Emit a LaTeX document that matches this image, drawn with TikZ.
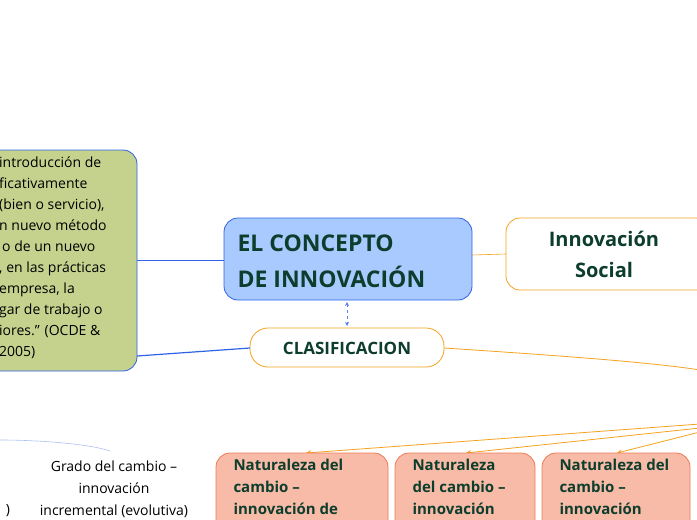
\documentclass[tikz,border=0pt]{standalone}
\usepackage{fontspec}
\setmainfont{Open Sans}
\usetikzlibrary{arrows.meta}
\definecolor{dg}{HTML}{0D3D2C}
\definecolor{bl}{HTML}{2E62E6}
\definecolor{org}{HTML}{F5A21E}
\definecolor{pk}{HTML}{F7BBA7}
\definecolor{pkb}{HTML}{EE7A58}
\tikzset{
 box/.style={draw,rounded corners=14pt,line width=0.8pt,inner sep=0pt},
 pink/.style={box,fill=pk,draw=pkb},
 ptxt/.style={anchor=north west,align=left,text=dg,font=\bfseries\fontsize{15}{22}\selectfont}
}
\begin{document}
\begin{tikzpicture}[x=1pt,y=-1pt]
\useasboundingbox (0,0) rectangle (697,520);
\clip (0,0) rectangle (697,520);
% green box
\draw[box,fill={rgb,255:red,197;green,210;blue,142},draw=bl] (-20,150) rectangle (137,371);
\node[anchor=north west,align=left,font=\fontsize{14}{21}\selectfont,inner sep=0pt] (def) at (-1,157)
{introducción de\\ficativamente\\(bien o servicio),\\n nuevo método\\\hspace{3pt}o de un nuevo\\, en las prácticas\\empresa, la\\gar de trabajo o\\iores.” (OCDE \&\\2005)};
% main
\draw[box,fill={rgb,255:red,168;green,202;blue,255},draw=bl] (224,218) rectangle (472,300);
\node[anchor=west,align=left,text=dg,font=\bfseries\fontsize{23}{36}\selectfont] (main) at (234,261) {EL CONCEPTO\\DE INNOVACIÓN};
\coordinate (mainL) at (224,260); \coordinate (mainR) at (472,255);
\coordinate (mainB) at (347,302);
% social
\draw[box,fill=white,draw=org] (506,218) rectangle (710,290);
\node[align=center,text=dg,font=\bfseries\fontsize{20}{31}\selectfont] (soc) at (604,254) {Innovación\\Social};
\coordinate (socL) at (506,254);
% clasificacion
\draw[box,fill=white,draw=org,rounded corners=18pt] (250,328) rectangle (444,367);
\node[text=dg,font=\bfseries\fontsize{17}{20}\selectfont] (cla) at (347,348) {CLASIFICACION};
\coordinate (claL) at (250,348); \coordinate (claR) at (444,348); \coordinate (claT) at (347,326);
\coordinate (gR) at (137,260); \coordinate (gR2) at (137,356);
% connectors
\draw[bl,line width=0.6pt] (gR) -- (mainL);
\draw[bl,line width=1.2pt] (claL) -- (gR2);
\draw[org,line width=0.6pt] (mainR) -- (socL);
\draw[bl!80,dashed,line width=0.7pt,{Stealth[length=4pt,width=4pt]}-{Stealth[length=4pt,width=4pt]}] (mainB) -- (claT);
\coordinate (fr) at (700,370);
\draw[org,line width=0.8pt] (claR) .. controls (550,355) and (650,362) .. (fr);
\coordinate (o1) at (700,424); \coordinate (o2) at (700,428); \coordinate (o3) at (700,432);
\coordinate (p1) at (306,453); \coordinate (p2) at (466,453); \coordinate (p3) at (617,453);
\draw[org,line width=0.8pt,-{Stealth[length=5pt,width=5pt]}] (o1) -- (p1);
\draw[org,line width=0.8pt,-{Stealth[length=5pt,width=5pt]}] (o2) -- (p2);
\draw[org,line width=0.8pt,-{Stealth[length=5pt,width=5pt]}] (o3) -- (p3);
% pink boxes
\draw[pink] (216,453) rectangle (388,540);
\node[ptxt] (n1) at (230,456) {Naturaleza del\\cambio –\\innovación de};
\draw[pink] (395,453) rectangle (535,540);
\node[ptxt] (n2) at (409,456) {Naturaleza\\del cambio –\\innovación};
\draw[pink] (542,453) rectangle (690,540);
\node[ptxt] (n3) at (556,456) {Naturaleza del\\cambio –\\innovación};
% grado
\draw[bl!40,line width=0.6pt] (0,440) .. controls (40,440) and (90,444) .. (110,451);
\node[align=center,font=\fontsize{14}{22}\selectfont] (gr) at (114,489) {Grado del cambio –\\innovación\\incremental (evolutiva)};
\node[font=\fontsize{14}{22}\selectfont] (par) at (8,511) {)};
\end{tikzpicture}
\end{document}
